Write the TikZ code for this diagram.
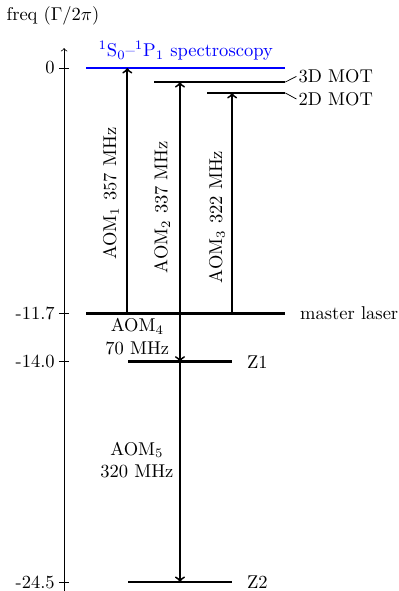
\documentclass[tikz,border=0pt]{standalone}
\usetikzlibrary{positioning}
\begin{document}
\begin{tikzpicture}[x=1cm, y=0.3982cm, level/.style={line width=1.4pt}, trans/.style={->, line width=1pt}, lab/.style={anchor=west, inner sep=1pt}]
                    \useasboundingbox (-1.216,3.24) rectangle (6.34,-24.93);
                    % axis
                    \draw[->] (0,-24.93) -- (0,0.95);
                    \node (freq) at (-0.21,2.48) {freq ($\Gamma/2\pi$)};
                    \foreach \f/\t in {0/0, -11.7/-11.7, -14/-14.0, -24.5/-24.5}
                        \draw (-0.1,\f) -- (0.1,\f) node[pos=0, left, inner sep=2pt] {\t};
                    % levels
                    \draw[level, blue] (0.42,0) coordinate (spec-l) -- (4.2,0) coordinate (spec-r)
                        node[midway, above, text=blue] {$^1$S$_0$--$^1$P$_1$ spectroscopy};
                    \draw[level] (1.71,-0.67) coordinate (mot3-l) -- (4.2,-0.67) coordinate (mot3);
                    \draw[level] (2.72,-1.19) coordinate (mot2-l) -- (4.2,-1.19) coordinate (mot2);
                    \draw[level] (0.42,-11.7) coordinate (ml-l) -- (4.2,-11.7) coordinate (ml)
                        node[right=4pt] {master laser};
                    \draw[level] (1.22,-14) coordinate (z1-l) -- (3.19,-14) coordinate (z1)
                        node[right=4pt] {Z1};
                    \draw[level] (1.22,-24.5) coordinate (z2-l) -- (3.19,-24.5) coordinate (z2)
                        node[right=4pt] {Z2};
                    \node[lab] (mot3-lab) at (4.41,-0.4) {3D MOT};
                    \node[lab] (mot2-lab) at (4.41,-1.48) {2D MOT};
                    \draw (mot3) -- (mot3-lab.west);
                    \draw (mot2) -- (mot2-lab.west);
                    % AOM transitions
                    \coordinate (a1) at (1.2,-11.7);
                    \coordinate (a2) at (2.2,-11.7);
                    \coordinate (a3) at (3.19,-11.7);
                    \draw[trans] (a1) -- (a1 |- spec-l);
                    \draw[trans] (a2) -- (a2 |- mot3);
                    \draw[trans] (a3) -- (a3 |- mot2);
                    \draw[trans] (a2) -- (a2 |- z1) coordinate (a4);
                    \draw[trans] (a4) -- (a4 |- z2);
                    \node[rotate=90] (aom1) at (0.89,-6.0) {AOM$_1$\ 357 MHz};
                    \node[rotate=90] (aom2) at (1.86,-6.63) {AOM$_2$ 337 MHz};
                    \node[rotate=90] (aom3) at (2.9,-7.1) {AOM$_3$ 322 MHz};
                    \node[left, align=center] (aom4) at (2.12,-12.8) {AOM$_4$\\70 MHz};
                    \node[left, align=center] (aom5) at (2.2,-18.68) {AOM$_5$\\320 MHz};
                \end{tikzpicture}
\end{document}
